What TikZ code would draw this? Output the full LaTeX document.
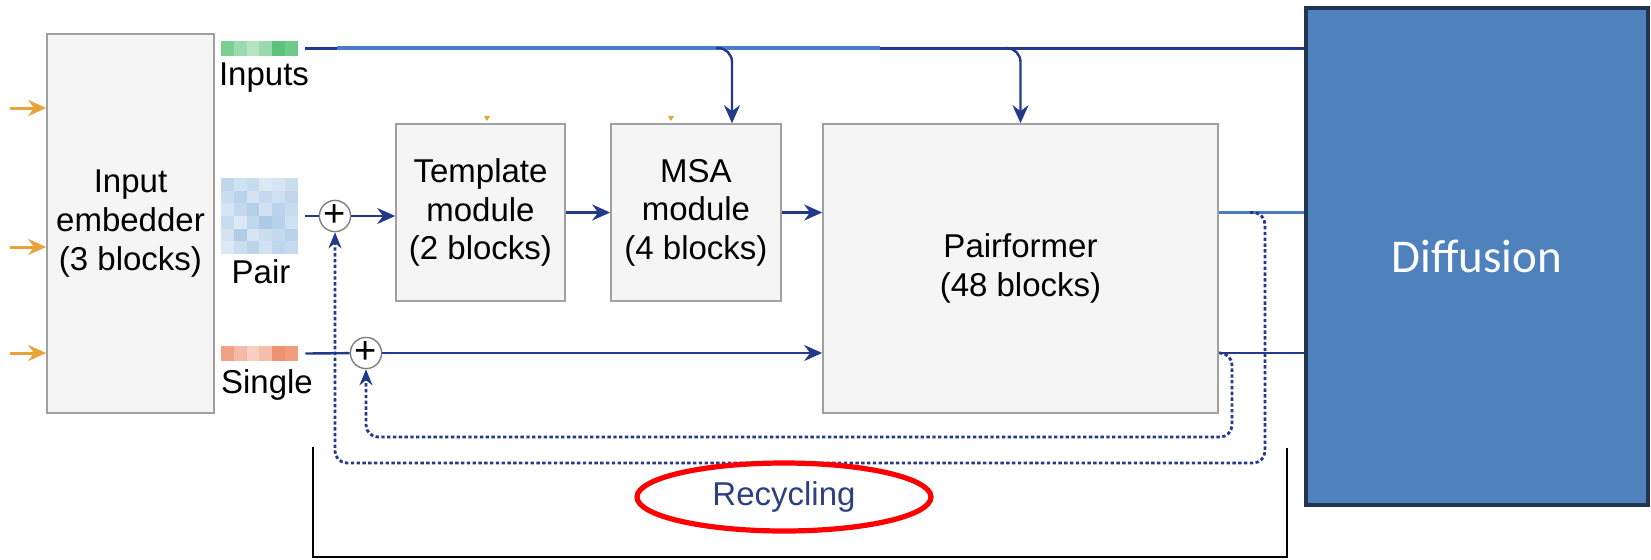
\documentclass[tikz,border=0pt]{standalone}
\usepackage{fontspec}
\setmainfont{Liberation Sans}
\newfontfamily\calibri{Carlito}
\usetikzlibrary{calc}
\usetikzlibrary{arrows.meta}

\definecolor{navy}{HTML}{233A8A}
\definecolor{lineblue}{HTML}{4A7EC0}
\definecolor{boxfill}{HTML}{F5F5F5}
\definecolor{boxline}{HTML}{A0A0A0}
\definecolor{feedorange}{HTML}{E8A33A}
\definecolor{diffblue}{HTML}{4F81BD}
\definecolor{diffline}{HTML}{1F3550}
\definecolor{pairblue}{HTML}{8AB5DD}
\definecolor{ingreen}{HTML}{5CC27A}
\definecolor{singlered}{HTML}{EE9272}
\definecolor{recyctext}{HTML}{2D3F80}

\tikzset{
  module/.style={draw=boxline, fill=boxfill, line width=0.8pt, align=center, inner sep=0pt},
  wire/.style={navy, line width=1.2pt},
  flow/.style={navy, line width=1.2pt, -{Stealth[length=9pt,width=8pt]}},
  feed/.style={feedorange, line width=1.5pt, -{Stealth[length=9pt,width=8pt]}},
  recycle/.style={navy, line width=1.4pt, dash pattern=on 1.7pt off 1.2pt, rounded corners=6pt, -{Stealth[length=8pt,width=6.5pt]}},
  adder/.style={circle, draw=gray, fill=white, line width=0.7pt, minimum size=15pt, inner sep=0pt, font=\fontsize{19}{19}\selectfont},
  swatch/.style={minimum width=38.5pt, inner sep=0pt},
}

\begin{document}
\begin{tikzpicture}[x=0.5pt, y=-0.5pt, every node/.style={font=\fontsize{16.5}{19.3}\selectfont}]

    \useasboundingbox (0,0) rectangle (1651,559);

    % blocks
    \node [module, minimum width=83.5pt, minimum height=189.5pt] (embed) at (130.5,223.5) {Input\\embedder\\(3 blocks)};
    \node [module, minimum width=84.5pt, minimum height=88.5pt] (template) at (480.5,212.5) {Template\\module\\(2 blocks)};
    \node [module, minimum width=85pt, minimum height=88.5pt] (msa) at (696,212.5) {MSA\\module\\(4 blocks)};
    \node [module, minimum width=197.5pt, minimum height=144.5pt] (pairformer) at (1020.5,268.5) {Pairformer\\(48 blocks)};
    \node [fill=diffblue, draw=diffline, line width=2pt, minimum width=171pt, minimum height=248.5pt, text=white, font=\calibri\fontsize{23.5}{28}\selectfont] (diffusion) at (1477,256.5) {Diffusion};

    % embeddings
    \foreach \v [count=\i from 0] in {80,60,45,62,100,88}
        \fill [ingreen!\v!white] ({221+\i*12.83},41) rectangle ++(12.83,15);
    \foreach \v [count=\i from 0] in {
        55,40,48,30,35,45,
        45,60,38,50,42,55,
        35,52,65,40,58,48,
        48,30,55,70,62,42,
        38,68,35,45,50,60,
        30,45,58,40,55,50}
        \fill [pairblue!\v!white] ({221+mod(\i,6)*12.83},{178+int(\i/6)*12.67}) rectangle ++(12.83,12.67);
    \foreach \v [count=\i from 0] in {85,62,45,60,100,90}
        \fill [singlered!\v!white] ({221+\i*12.83},346) rectangle ++(12.83,15);

    \node [swatch, minimum height=7.5pt] (inbar) at (259.5,48.5) {};
    \node [swatch, minimum height=38pt] (pairimg) at (259.5,216) {};
    \node [swatch, minimum height=7.5pt] (singlebar) at (259.5,353.5) {};

    \node [anchor=base] (inlbl) at (264,85) {Inputs};
    \node [anchor=base] (pairlbl) at (261,283) {Pair};
    \node [anchor=base] (singlelbl) at (267,393) {Single};

    % feeds into the embedder
    \foreach \y in {108,247,353}
        \draw [feed] (10,\y) -- (embed.west |- 0,\y);
    \fill [feedorange] (484,116) -- (490,116) -- (487,121) -- cycle;
    \fill [feedorange] (668,116) -- (674,116) -- (671,121) -- cycle;

    % adders
    \node [adder] (plusP) at (335,216) {+};
    \node [adder] (plusS) at (366,353) {+};

    % main flow
    \draw [wire] ($(inbar.east)+(7,0)$) -- (inbar.east -| diffusion.west);
    \draw [lineblue, line width=1.6pt] (337,48) -- (880,48);
    \draw [flow, rounded corners=7pt] (716,48) -| ($(msa.north)+(36,0)$);
    \draw [flow, rounded corners=7pt] (1005,48) -| (pairformer.north);

    \draw [wire] ($(pairimg.east)+(7,0)$) -- (plusP);
    \draw [flow] (plusP) -- (plusP -| template.west);
    \draw [flow] (template) -- (msa);
    \draw [flow] (msa.east) -- (msa.east -| pairformer.west);

    \draw [wire] ($(singlebar.east)+(7,0)$) -- (plusS);
    \draw [flow] (plusS) -- (plusS -| pairformer.west);

    \draw [navy, line width=1.2pt] (msa.east -| pairformer.east) -- (msa.east -| diffusion.west);
    \draw [lineblue, line width=1.6pt] (msa.east -| pairformer.east) -- (msa.east -| diffusion.west);
    \draw [wire] (plusS -| pairformer.east) -- (plusS -| diffusion.west);

    % recycling loops
    \draw [recycle] (1250,212.5) -| (1265,463) -| (plusP.south);
    \draw [recycle] (1219,353) -| (1232,437) -| (plusS.south);

    \draw [black, line width=1pt] (313,447) -- (313,557) -- (1287,557) -- (1287,448);
    \node [text=recyctext] (recyc) at (784,497) {Recycling};
    \draw [red, line width=2.6pt] (recyc) ellipse [x radius=73.5pt, y radius=17pt];

\end{tikzpicture}
\end{document}
